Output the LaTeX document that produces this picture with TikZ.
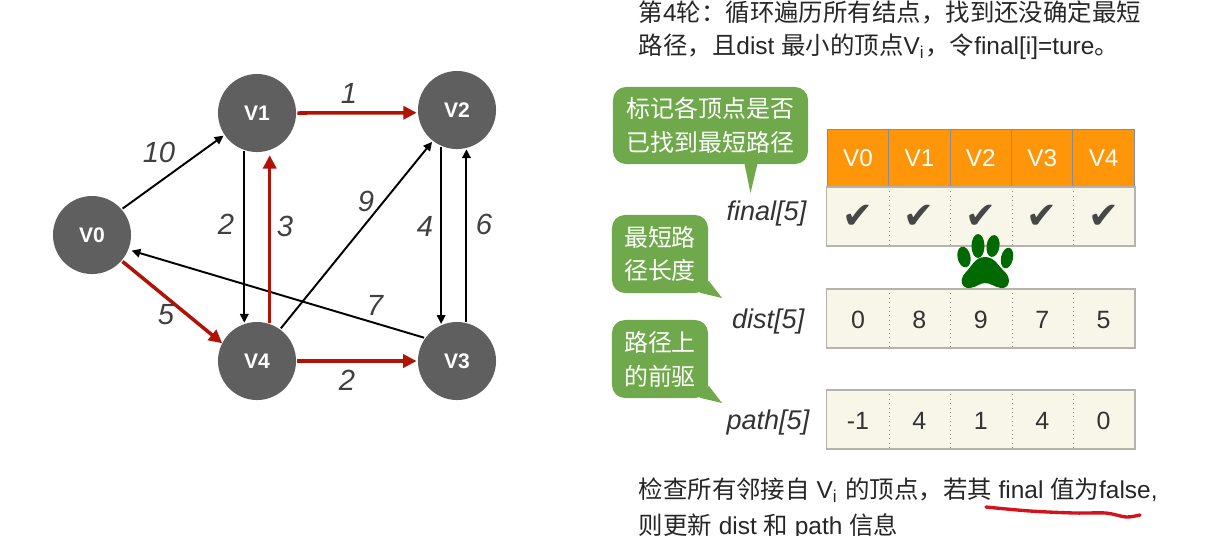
\documentclass[tikz,border=0pt]{standalone}
\usepackage{fontspec}
\setmainfont{Liberation Sans}
\newfontfamily\cjk{Noto Sans CJK SC}
\newfontfamily\checkfont{DejaVu Sans}
\usetikzlibrary{calc,arrows.meta}

\definecolor{vgray}{HTML}{5F5F5F}
\definecolor{redpath}{HTML}{B01205}
\definecolor{tipgreen}{HTML}{70A94C}
\definecolor{headorange}{HTML}{FF9508}
\definecolor{cellbg}{HTML}{F8F5E9}
\definecolor{cellline}{HTML}{B5B3AB}
\definecolor{pawgreen}{HTML}{006A00}
\definecolor{notered}{HTML}{D3121B}

\tikzset{
    vertex/.style={circle,fill=vgray,text=white,minimum size=0.78cm,inner sep=0pt,outer sep=0pt,font=\fontsize{6}{7}\selectfont\bfseries},
    plainedge/.style={-{Triangle[length=2.5pt,width=2.4pt]},line width=0.55pt,black,shorten >=0.4pt,shorten <=0.4pt},
    rededge/.style={-{Triangle[length=3.8pt,width=3.7pt]},line width=1pt,redpath,shorten >=0.4pt,shorten <=0.4pt},
    weight/.style={font=\fontsize{8.3}{9}\selectfont\itshape,text=black!75,inner sep=0pt},
    tip/.style={fill=tipgreen,text=white,rounded corners=1.3mm,inner sep=0pt,align=center,font=\fontsize{6.8}{9.6}\selectfont\cjk},
    arrname/.style={font=\fontsize{7.7}{9}\selectfont\itshape,text=black!80,inner sep=0pt},
    headcell/.style={fill=headorange,draw=black!45,line width=0.25pt,text=white,minimum width=0.614cm,minimum height=0.58cm,inner sep=0pt,font=\fontsize{6.9}{8}\selectfont},
    cell/.style={fill=cellbg,text=black!80,minimum width=0.614cm,minimum height=0.575cm,inner sep=0pt,font=\fontsize{7.1}{8}\selectfont},
    valcell/.style={cell,text height=5.9pt,text depth=0pt},
    line/.style={anchor=west,inner sep=0pt,text=black!85,font=\fontsize{6.95}{8}\selectfont},
    divider/.style={black!45,line width=0.25pt,densely dotted},
    border/.style={cellline,line width=0.4pt},
}

\begin{document}
\begin{tikzpicture}[x=0.01cm,y=-0.01cm]

    \useasboundingbox (0,0) rectangle (1216,535);

    %vertices
    \node[vertex] (V0) at (92,235) {V0};
    \node[vertex] (V1) at (257,113) {V1};
    \node[vertex] (V2) at (457,110) {V2};
    \node[vertex] (V3) at (457,361) {V3};
    \node[vertex] (V4) at (257,361) {V4};

    %edges
    \draw[plainedge] (V0.41) -- (V1.214);
    \draw[plainedge] (V1.251) -- (V4.109);
    \draw[plainedge] (V4.54) -- (V2.232);
    \draw[plainedge] (V2.246) -- (V3.114);
    \draw[plainedge] (V3.76) -- (V2.284);
    \draw[plainedge,shorten >=1pt] (V3.144) -- (V0.338);
    \draw[rededge] (V1.east) -- (V2.184);
    \draw[rededge,shorten >=1.5pt] (V4.71) -- (V1.289);
    \draw[rededge,shorten >=0pt] (V0.319) -- (V4.153);
    \draw[rededge] (V4.east) -- (V3.west);

    %weights
    \foreach \n/\x/\y/\w in {a/159/152/10,b/349/93/1,c/226/224/2,d/285/226/3,e/366/201/9,f/425/226/4,g/484/224/6,h/375/305/7,i/166/315/5,j/347/380/2}{
        \node[weight] (w\n) at (\x,\y) {\w};
    }

    %top text
    \node[line] (top1) at (638,12.5) {{\cjk 第}4{\cjk 轮：循环遍历所有结点，找到还没确定最短}};
    \node[line] (top2) at (638,46.5) {{\cjk 路径，且}dist {\cjk 最小的顶点}V\textsubscript{i}{\cjk ，令}final[i]=ture{\cjk 。}};

    %table rows
    \foreach \i/\x in {0/858,1/919.4,2/980.8,3/1042.2,4/1103.6}{
        \node[headcell] (head\i) at (\x,158) {V\i};
        \node[cell,text=black!72] (final\i) at (\x,216.5) {\checkfont\fontsize{10.5}{11}\selectfont ✔};
    }
    \foreach \i/\x/\d/\p in {0/858/0/-1,1/919.4/8/4,2/980.8/9/1,3/1042.2/7/4,4/1103.6/5/0}{
        \node[valcell] (dist\i) at (\x,318.5) {\d};
        \node[valcell] (path\i) at (\x,419.5) {\p};
    }
    \foreach \r in {final,dist,path}{
        \foreach \i in {0,1,2,3}{
            \draw[divider] (\r\i.north east) -- (\r\i.south east);
        }
    }
    \draw[border] (final0.north west) rectangle (final4.south east);
    \draw[border] (dist0.north west) rectangle (dist4.south east);
    \draw[border] (path0.north west) rectangle (path4.south east);

    %array names
    \node[arrname,anchor=east] (nfinal) at (807,213.5) {final[5]};
    \node[arrname,anchor=east] (ndist) at (805,321.5) {dist[5]};
    \node[arrname,anchor=east] (npath) at (810,422.5) {path[5]};

    %green tips
    \node[tip,minimum width=1.95cm,minimum height=0.77cm] (tip1) at (710.5,125.5) {标记各顶点是否\\已找到最短路径};
    \node[tip,minimum width=0.96cm,minimum height=0.78cm] (tip2) at (660,254) {最短路\\径长度};
    \node[tip,minimum width=0.96cm,minimum height=0.78cm] (tip3) at (660,359) {路径上\\的前驱};
    \fill[tipgreen] ($(tip1.south)+(34,-1)$) -- (750.5,193) -- ($(tip1.south)+(47,-1)$) -- cycle;
    \fill[tipgreen] ($(tip2.south east)+(-9,-1)$) -- (722,298) -- ($(tip2.south east)+(0,-13)$) -- cycle;
    \fill[tipgreen] ($(tip3.south east)+(-9,-1)$) -- (722,403) -- ($(tip3.south east)+(0,-13)$) -- cycle;

    %paw
    \fill[pawgreen] (964,257) ellipse [x radius=6.5,y radius=10.5,rotate=12];
    \fill[pawgreen] (978,246) ellipse [x radius=6.5,y radius=12];
    \fill[pawgreen] (993,246) ellipse [x radius=6.5,y radius=11,rotate=-8];
    \fill[pawgreen] (1007,258) ellipse [x radius=6,y radius=10.5,rotate=-12];
    \fill[pawgreen] (985,257) .. controls (975,257) and (972,266) .. (966,272) .. controls (958,280) and (962,289) .. (970,288) .. controls (977,287) and (980,283) .. (985,283) .. controls (991,283) and (994,287) .. (1001,288) .. controls (1009,289) and (1012,279) .. (1005,272) .. controls (998,266) and (995,257) .. (985,257) -- cycle;

    %bottom text
    \node[line] (bot1) at (638,490) {{\cjk 检查所有邻接自} V\textsubscript{i} {\cjk 的顶点，若其} final {\cjk 值为}false,};
    \node[line] (bot2) at (638,526.5) {{\cjk 则更新} dist {\cjk 和} path {\cjk 信息}};

    %underline
    \draw[notered,line width=0.95pt,line cap=round] plot[smooth] coordinates {(986,507) (1030,511) (1075,513) (1106,513) (1126,517) (1140,515)};

\end{tikzpicture}
\end{document}
